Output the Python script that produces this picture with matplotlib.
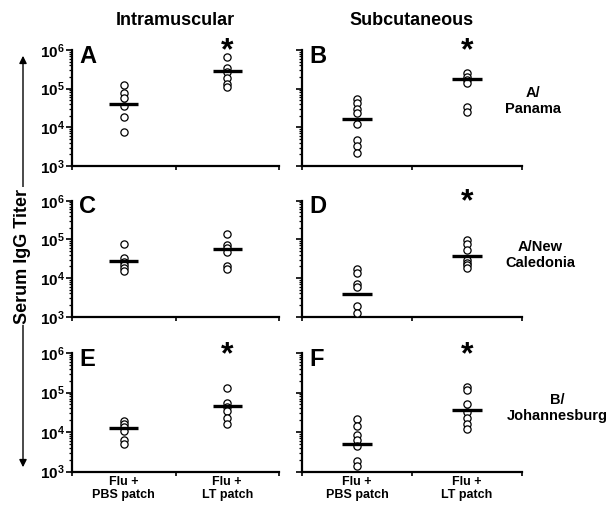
import matplotlib
matplotlib.use('Agg')
import matplotlib.pyplot as plt
from matplotlib.ticker import LogLocator, NullFormatter, FixedLocator

plt.rcParams['font.family'] = ['Liberation Sans', 'DejaVu Sans']
plt.rcParams['font.weight'] = 'bold'
plt.rcParams['mathtext.fontset'] = 'custom'
plt.rcParams['mathtext.rm'] = 'Liberation Sans:bold'
plt.rcParams['mathtext.bf'] = 'Liberation Sans:bold'

# data (serum IgG titer)
groups = ['Flu +\nPBS patch', 'Flu +\nLT patch']
routes = ['Intramuscular', 'Subcutaneous']
strains = ['A/\nPanama', 'A/New\nCaledonia', 'B/\nJohannesburg']

a_pbs = [124000, 76000, 59000, 35500, 18200, 7400]
a_lt = [672000, 336000, 265000, 185000, 132000, 108000]
a_mean = [39500, 286000]

b_pbs = [53000, 41900, 29300, 23100, 12200, 4710, 3350, 2130]
b_lt = [259000, 204000, 168000, 140000, 32600, 24200]
b_mean = [16400, 175000]

c_pbs = [74500, 32400, 26500, 21700, 17900, 15200]
c_lt = [138000, 73600, 60500, 48500, 20500, 17100]
c_mean = [27600, 57400]

d_pbs = [17500, 13300, 6930, 5970, 1860, 1250]
d_lt = [96400, 77300, 54100, 29300, 24500, 21100, 18200]
d_mean = [3860, 37200]

e_pbs = [19100, 15600, 13100, 10700, 6320, 5010]
e_lt = [133000, 54500, 44000, 34600, 22300, 15800]
e_mean = [12500, 46200]

f_pbs = [21200, 14100, 8610, 6320, 4590, 1830, 1370]
f_lt = [141000, 116000, 51400, 33200, 22700, 16000, 12000]
f_mean = [5010, 35800]

significant = {'A': True, 'B': True, 'C': False, 'D': True, 'E': True, 'F': True}

panels = [
    [('A', a_pbs, a_lt, a_mean), ('B', b_pbs, b_lt, b_mean)],
    [('C', c_pbs, c_lt, c_mean), ('D', d_pbs, d_lt, d_mean)],
    [('E', e_pbs, e_lt, e_mean), ('F', f_pbs, f_lt, f_mean)],
]

W, H = 616, 505
fig = plt.figure(figsize=(W / 100, H / 100), dpi=100)

col_x = [(72, 207), (302, 220)]
row_y = [(50, 166), (200.7, 316.7), (353, 471.7)]
strain_pos = [(533, 101), (540, 255), (557, 408)]
cats = [0.5, 1.5]

for r, row in enumerate(panels):
    top, bot = row_y[r]
    for c, (letter, pbs, lt, mean) in enumerate(row):
        left, width = col_x[c]
        ax = fig.add_axes([left / W, 1 - bot / H, width / W, (bot - top) / H])
        for x, vals in zip(cats, [pbs, lt]):
            ax.plot([x] * len(vals), vals, 'o', mfc='white', mec='black',
                    ms=5.2, mew=0.9, ls='none', zorder=3)
        for x, m in zip(cats, mean):
            ax.plot([x - 0.14, x + 0.14], [m, m], color='black', lw=2.4,
                    solid_capstyle='butt', zorder=4)
        ax.set_yscale('log')
        ax.set_ylim(1e3, 1e6)
        ax.set_xlim(0, 2)
        ax.spines['top'].set_visible(False)
        ax.spines['right'].set_visible(False)
        ax.spines['left'].set_linewidth(1.6)
        ax.spines['bottom'].set_linewidth(1.6)
        ax.yaxis.set_major_locator(FixedLocator([1e3, 1e4, 1e5, 1e6]))
        ax.yaxis.set_minor_locator(LogLocator(base=10, subs=range(2, 10)))
        ax.yaxis.set_minor_formatter(NullFormatter())
        if c == 0:
            ax.set_yticklabels([r'$\mathbf{10^{3}}$', r'$\mathbf{10^{4}}$',
                                r'$\mathbf{10^{5}}$', r'$\mathbf{10^{6}}$'],
                               fontsize=11)
        else:
            ax.set_yticklabels([])
        ax.tick_params(axis='y', which='major', length=4, width=1.2, pad=1)
        ax.tick_params(axis='y', which='minor', length=2.5, width=0.9)
        ax.set_xticks([0, 1, 2])
        ax.set_xticklabels([])
        ax.tick_params(axis='x', which='major', length=3, width=1.2)
        ax.set_xticks(cats, minor=True)
        if r == 2:
            ax.set_xticklabels(groups, minor=True, fontsize=9, fontweight='bold',
                               linespacing=1.1)
        ax.tick_params(axis='x', which='minor', length=0, pad=3)
        ax.text(0.035, 1.045, letter, transform=ax.transAxes, fontsize=17,
                fontweight='bold', ha='left', va='top')
        if significant[letter]:
            ax.text(cats[1] / 2, 0.985, '*', transform=ax.transAxes, fontsize=23,
                    fontweight='bold', ha='center', va='center', clip_on=False)
        if r == 0:
            ax.text(0.5, 1.18, routes[c], transform=ax.transAxes, fontsize=13,
                    fontweight='bold', ha='center', va='bottom')

for (x, y), s in zip(strain_pos, strains):
    fig.text(x / W, 1 - y / H, s, ha='center', va='center', fontsize=10.5,
             fontweight='bold', linespacing=1.15)

# vertical double arrow with the y label on it
fig.add_artist(matplotlib.patches.FancyArrowPatch(
    (23 / W, 1 - 470 / H), (23 / W, 1 - 53 / H), transform=fig.transFigure,
    arrowstyle='<|-|>', mutation_scale=11, color='black', lw=1.0))
fig.text(23 / W, 1 - 256 / H, 'Serum IgG Titer', rotation=90, ha='center',
         va='center', fontsize=13, fontweight='bold',
         bbox=dict(facecolor='white', edgecolor='none', pad=1))

fig.savefig('out.png', dpi=100)
